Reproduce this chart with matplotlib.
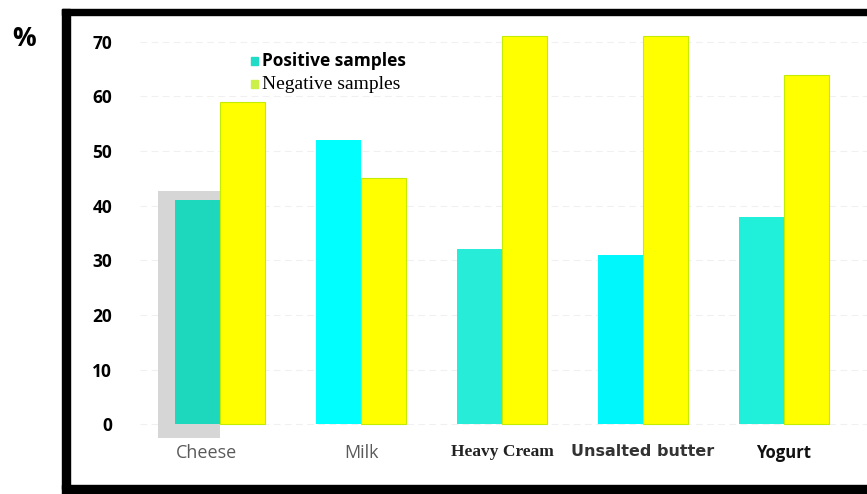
import matplotlib
matplotlib.use("Agg")
import matplotlib.pyplot as plt
from matplotlib.patches import Patch, Rectangle
from matplotlib.transforms import ScaledTranslation

categories = ["Cheese", "Milk", "Heavy Cream", "Unsalted butter", "Yogurt"]
positive = [41, 52, 32, 31, 38]
negative = [59, 45, 71, 71, 64]
yticks = [0, 10, 20, 30, 40, 50, 60, 70]

# the positive bars are not all the same shade in the original
pos_colors = ["#1dd8bd", "#00ffff", "#27ecd8", "#00f7fb", "#20efd9"]
neg_color = "#ffff00"

W, H = 867, 494
fig = plt.figure(figsize=(W / 100, H / 100), dpi=100)
ax = fig.add_axes([140 / W, 1 - 440 / H, 1 - 140 / W, 420 / H])

x = list(range(len(categories)))
bw = 0.32
ax.set_xlim(-0.57, 4.59)
ax.set_ylim(-2.9, 74.0)

for v in yticks:
    ax.axhline(v, color="#f0f0f0", lw=0.8, ls=(0, (6, 4)), zorder=0)

# grey shadow behind the cheese bar
ax.add_patch(Rectangle((x[0] - bw - 0.12, -2.6), bw + 0.12, positive[0] + 4.2,
                       color="#d6d6d6", zorder=1, lw=0))
ax.bar([i - bw / 2 for i in x], positive, width=bw, color=pos_colors, zorder=2)
ax.bar([i + bw / 2 for i in x], negative, width=bw, color=neg_color,
       edgecolor="#c4ec00", linewidth=0.8, zorder=2)

ax.set_yticks(yticks)
ax.set_yticklabels([str(v) for v in yticks], fontsize=12.5, fontweight="bold",
                   family="Open Sans")
ax.tick_params(axis="y", length=0, pad=20)
ax.set_xticks(x)
ax.set_xticklabels(categories)
ax.tick_params(axis="x", length=0, pad=3)
lab_style = [
    dict(family="Open Sans", color="#5a5a5a", fontsize=13),
    dict(family="Open Sans", color="#5a5a5a", fontsize=13),
    dict(family="Liberation Serif", color="#222222", fontsize=12.5, fontweight="bold"),
    dict(family="DejaVu Sans", color="#333333", fontsize=11.5, fontweight="bold"),
    dict(family="Open Sans", color="#111111", fontsize=12, fontweight="bold"),
]
for t, st in zip(ax.get_xticklabels(), lab_style):
    t.set(**st)
# cheese label sits a bit left of its group
t0 = ax.get_xticklabels()[0]
t0.set_transform(t0.get_transform() + ScaledTranslation(-0.14, 0, fig.dpi_scale_trans))

for s in ax.spines.values():
    s.set_visible(False)

handles = [Patch(color="#20dcc6"), Patch(color="#ccf04a")]
leg = ax.legend(handles, ["Positive samples", "Negative samples"],
                loc="upper left", bbox_to_anchor=(245 / W, 1 - 46 / H),
                bbox_transform=fig.transFigure, frameon=False,
                handlelength=0.5, handleheight=0.5, handletextpad=0.3,
                labelspacing=0.45, borderaxespad=0)
leg.get_texts()[0].set(family="Open Sans", fontweight="bold", fontsize=12.5)
leg.get_texts()[1].set(family="Liberation Serif", fontsize=14)

# thick black frame around the chart
fig.patches.append(Rectangle((62 / W, 1 - 9 / H), 8 / W, -(480 / H),
                             transform=fig.transFigure, color="black"))
fig.patches.append(Rectangle((62 / W, 1 - 9 / H), 1, -6 / H,
                             transform=fig.transFigure, color="black"))
fig.patches.append(Rectangle((62 / W, 1 - 485 / H), 1, -9 / H,
                             transform=fig.transFigure, color="black"))

fig.text(12 / W, 1 - 38 / H, "%", fontsize=19, fontweight="bold",
         family="Open Sans", ha="left", va="center")

fig.savefig("out.png", dpi=100)
